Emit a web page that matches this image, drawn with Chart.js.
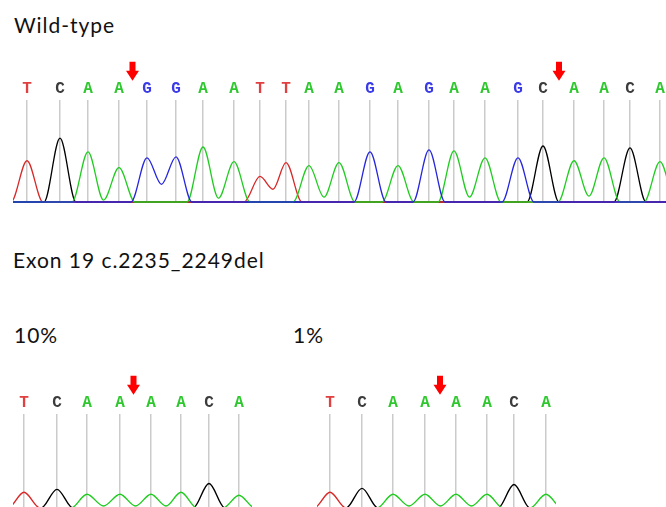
<!DOCTYPE html>
<html>
<head>
<meta charset="utf-8">
<script src="https://cdn.jsdelivr.net/npm/chart.js@4/dist/chart.umd.min.js"></script>
<style>
  html, body { margin: 0; padding: 0; background: #fff; }
  body { position: relative; width: 666px; height: 507px; overflow: hidden; font-family: Lato, "Open Sans", sans-serif; }
  .lbl { position: absolute; font-size: 21px; line-height: 21px; letter-spacing: 0.95px; color: #111; white-space: nowrap; }
  canvas { position: absolute; }
</style>
</head>
<body>
<div class="lbl" style="left:14px; top:14px;">Wild-type</div>
<div class="lbl" style="left:13px; top:249px;">Exon 19 c.2235_2249del</div>
<div class="lbl" style="left:14px; top:324px;">10%</div>
<div class="lbl" style="left:293px; top:324px;">1%</div>

<canvas id="wt" width="653" height="152" style="left:13px; top:55px; width:653px; height:152px;"></canvas>
<canvas id="mut10" width="239" height="137" style="left:13px; top:370px; width:239px; height:137px;"></canvas>
<canvas id="mut1" width="239" height="137" style="left:317px; top:370px; width:239px; height:137px;"></canvas>

<script>
// ---- Wild-type read ----
const wtBases  = ['T','C','A','A','G','G','A','A','T','T','A','A','G','A','G','A','A','G','C','A','A','C','A'];
const wtCalls  = [27, 60, 88, 119, 147, 176, 203, 234, 260, 286, 309, 339, 370, 398, 429, 454, 485, 518, 543, 574, 604, 630, 660];
const wtPeaks  = [42, 65, 51, 35, 45, 46, 56, 41, 26, 40, 37, 40, 51, 37, 53, 52, 45, 45, 57, 42, 45, 55, 41];
// valley between two neighbouring peaks of the same base: [index of right peak, valley height]
const wtDips   = [[3, 2], [5, 18], [7, 4], [9, 13], [11, 5], [16, 5], [20, 6]];
const wtArrows = [132.5, 559];
const wtRange  = [13, 666];

// ---- Exon 19 deletion, 10% mix ----
const m10Bases  = ['T','C','A','A','A','A','C','A','T'];
const m10Calls  = [24, 57, 87, 120, 151, 181, 209, 239, 266];
const m10Peaks  = [16, 19, 14, 14, 14, 16, 25, 13, 14];
const m10Dips   = [[3, 2], [4, 2], [5, 2]];
const m10Arrows = [133.5];
const m10Range  = [13, 252];

// ---- Exon 19 deletion, 1% mix ----
const m1Bases  = ['T','C','A','A','A','A','C','A','T'];
const m1Calls  = [330, 362, 393, 425, 456, 487, 514, 546, 572];
const m1Peaks  = [16, 20, 14, 14, 14, 14, 24, 14, 14];
const m1Dips   = [[3, 2], [4, 2], [5, 2]];
const m1Arrows = [440];
const m1Range  = [317, 556];

// ---- styling ----
const traceColor = { A: '#1fcc1f', C: '#000000', G: '#2626dc', T: '#d82828' };
const letterColor = { A: '#2ec82e', C: '#3c3c3c', G: '#3a3ae6', T: '#e04040' };
const HALF_WIDTH = 16;

// One channel's trace: each called peak of that base rises from the baseline,
// neighbouring peaks of the same base meet in their measured valley.
function channelTrace(ch, bases, calls, peaks, dips, range) {
  const dipAt = new Map(dips);
  const pts = [{ x: range[0] - 40, y: 0 }];
  for (let i = 0; i < calls.length; i++) {
    if (bases[i] !== ch) continue;
    const p = calls[i];
    if (i > 0 && bases[i - 1] === ch) {
      pts.push({ x: (calls[i - 1] + p) / 2, y: dipAt.has(i) ? dipAt.get(i) : 0 });
    } else {
      pts.push({ x: p - HALF_WIDTH, y: 0 });
    }
    pts.push({ x: p, y: peaks[i] });
    if (!(i + 1 < calls.length && bases[i + 1] === ch)) {
      pts.push({ x: p + HALF_WIDTH, y: 0 });
    }
  }
  pts.push({ x: range[1] + 40, y: 0 });
  return pts;
}

const callArrows = {
  id: 'callArrows',
  afterDraw(chart, args, opts) {
    const { ctx, chartArea, scales } = chart;
    ctx.save();
    ctx.fillStyle = '#ff0000';
    (opts.at || []).forEach(v => {
      const cx = scales.x.getPixelForValue(v);
      const top = chartArea.top - 38;
      ctx.beginPath();
      ctx.moveTo(cx - 3, top);
      ctx.lineTo(cx + 3, top);
      ctx.lineTo(cx + 3, top + 9);
      ctx.lineTo(cx + 6.5, top + 9);
      ctx.lineTo(cx, top + 19);
      ctx.lineTo(cx - 6.5, top + 9);
      ctx.lineTo(cx - 3, top + 9);
      ctx.closePath();
      ctx.fill();
    });
    ctx.restore();
  }
};

function chromatogram(id, bases, calls, peaks, dips, arrows, range, yRange, pad, lw) {
  // G first so the blue trace (and its baseline) is painted on top
  const datasets = ['G', 'A', 'T', 'C'].map(ch => ({
    label: ch,
    data: channelTrace(ch, bases, calls, peaks, dips, range),
    borderColor: traceColor[ch],
    borderWidth: lw,
    pointRadius: 0,
    fill: false,
    cubicInterpolationMode: 'monotone'
  }));
  return new Chart(document.getElementById(id), {
    type: 'line',
    data: { datasets },
    plugins: [callArrows],
    options: {
      responsive: false,
      animation: false,
      events: [],
      layout: { padding: pad },
      plugins: { legend: { display: false }, tooltip: { enabled: false }, callArrows: { at: arrows } },
      scales: {
        x: {
          type: 'linear',
          position: 'top',
          min: range[0],
          max: range[1],
          border: { display: false },
          grid: { color: '#cbcbcb', lineWidth: 1.5, drawTicks: false, drawOnChartArea: true },
          afterBuildTicks: scale => {
            scale.ticks = calls.filter(v => v >= range[0] && v <= range[1]).map(v => ({ value: v }));
          },
          ticks: {
            autoSkip: false,
            maxRotation: 0,
            padding: 1,
            font: { family: 'Liberation Mono', size: 16, weight: 'bold' },
            color: c => letterColor[bases[calls.indexOf(c.tick.value)]],
            callback: v => bases[calls.indexOf(v)]
          }
        },
        y: { display: false, min: yRange[0], max: yRange[1] }
      }
    }
  });
}

chromatogram('wt', wtBases, wtCalls, wtPeaks, wtDips, wtArrows, wtRange, [-1, 104],
  { top: 23.6, bottom: 4, left: 0, right: 0 }, 1.3);
chromatogram('mut10', m10Bases, m10Calls, m10Peaks, m10Dips, m10Arrows, m10Range, [1, 96],
  { top: 22.6, bottom: 0, left: 0, right: 0 }, 1.4);
chromatogram('mut1', m1Bases, m1Calls, m1Peaks, m1Dips, m1Arrows, m1Range, [1, 96],
  { top: 22.6, bottom: 0, left: 0, right: 0 }, 1.4);
</script>
</body>
</html>
